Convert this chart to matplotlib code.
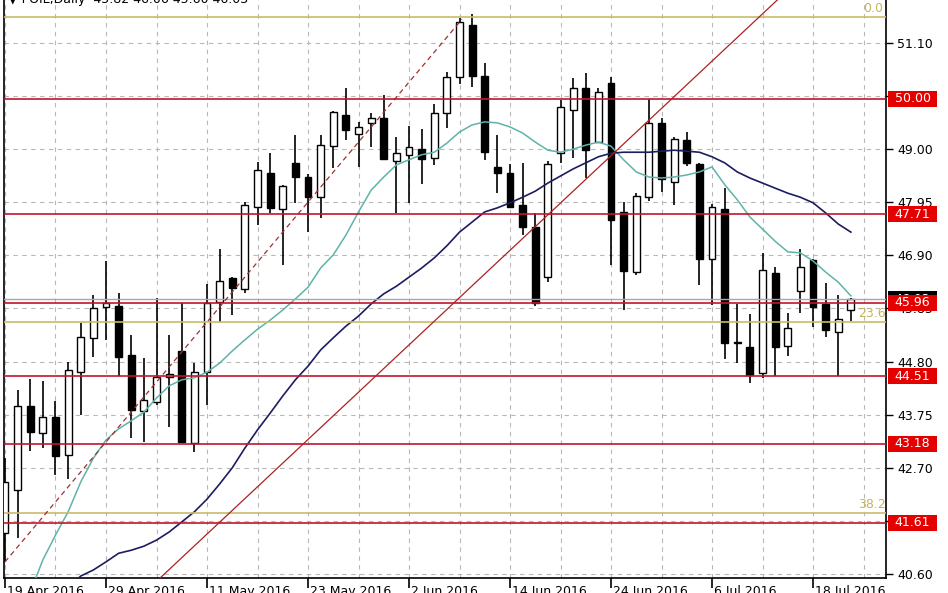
import matplotlib
matplotlib.use("Agg")
import matplotlib.pyplot as plt
import matplotlib.transforms as mtransforms
from matplotlib.patches import Rectangle
import numpy as np

# daily OHLC, POIL, 19 Apr 2016 .. 21 Jul 2016
opens = [41.41, 42.26, 43.92, 43.39, 43.70, 42.95, 44.59, 45.27, 45.88, 45.90,
         44.93, 43.82, 44.00, 44.49, 45.01, 43.19, 44.59, 45.98, 46.45, 46.23,
         47.86, 48.53, 47.82, 48.73, 48.45, 48.05, 49.06, 49.68, 49.30, 49.52,
         49.62, 48.77, 48.89, 49.00, 48.83, 49.72, 50.43, 51.46, 50.45, 48.65,
         48.53, 47.90, 47.46, 46.47, 48.92, 49.77, 50.21, 49.14, 50.31, 47.76,
         46.57, 48.05, 49.52, 48.35, 49.18, 48.71, 46.83, 47.82, 45.17, 45.09,
         44.57, 46.55, 45.11, 46.20, 46.81, 45.94, 45.38, 45.82]
highs = [42.89, 44.24, 44.46, 44.42, 44.02, 44.79, 45.56, 46.12, 46.79, 46.16,
         45.33, 44.87, 46.06, 45.33, 45.96, 44.77, 46.33, 47.03, 46.47, 47.96,
         48.75, 48.92, 48.30, 49.28, 48.51, 49.28, 49.76, 50.21, 49.54, 49.72,
         50.07, 49.24, 49.46, 49.40, 49.89, 50.53, 51.59, 51.67, 50.70, 49.28,
         48.71, 48.73, 47.74, 48.77, 49.97, 50.41, 50.51, 50.21, 50.43, 47.96,
         48.13, 49.99, 49.62, 49.24, 49.34, 48.73, 47.92, 48.23, 45.94, 45.74,
         46.95, 46.67, 45.76, 47.03, 46.83, 46.35, 46.12, 46.06]
lows = [40.84, 41.31, 43.03, 43.09, 42.56, 42.48, 43.74, 44.89, 45.23, 44.51,
        43.29, 43.21, 43.94, 43.51, 43.19, 43.01, 43.94, 45.58, 45.72, 46.16,
        47.50, 47.74, 46.71, 47.94, 47.36, 47.64, 48.63, 49.18, 48.65, 49.04,
        48.79, 47.74, 47.94, 48.31, 48.69, 49.42, 50.29, 50.23, 48.79, 48.13,
        47.84, 47.30, 45.90, 46.37, 48.73, 48.83, 48.43, 49.12, 46.71, 45.82,
        46.51, 47.98, 48.15, 47.90, 48.67, 46.31, 45.92, 44.85, 44.77, 44.38,
        44.48, 44.51, 44.91, 45.76, 45.48, 45.29, 44.51, 45.60]
closes = [42.42, 43.92, 43.41, 43.70, 42.93, 44.63, 45.29, 45.86, 45.96, 44.89,
          43.84, 44.04, 44.49, 44.55, 43.21, 44.59, 45.96, 46.39, 46.25, 47.90,
          48.59, 47.84, 48.27, 48.45, 48.05, 49.08, 49.74, 49.38, 49.44, 49.62,
          48.81, 48.92, 49.04, 48.81, 49.72, 50.43, 51.52, 50.45, 48.94, 48.53,
          47.86, 47.46, 45.96, 48.71, 49.83, 50.21, 48.98, 50.13, 47.60, 46.59,
          48.07, 49.52, 48.41, 49.20, 48.73, 46.83, 47.86, 45.17, 45.19, 44.53,
          46.61, 45.09, 45.46, 46.67, 45.88, 45.42, 45.64, 46.03]

# moving averages as drawn on the chart (fast one starts at bar 2, slow at bar 5)
ma_fast = [40.24, 40.88, 41.37, 41.83, 42.42, 42.89, 43.25, 43.47, 43.63, 43.80,
           44.08, 44.32, 44.44, 44.48, 44.59, 44.77, 45.01, 45.23, 45.44, 45.62,
           45.82, 46.04, 46.27, 46.65, 46.91, 47.30, 47.76, 48.19, 48.45, 48.69,
           48.79, 48.89, 48.94, 49.12, 49.34, 49.48, 49.54, 49.52, 49.44, 49.32,
           49.14, 48.98, 48.94, 49.00, 49.08, 49.14, 49.06, 48.79, 48.55, 48.45,
           48.43, 48.45, 48.49, 48.55, 48.65, 48.30, 48.00, 47.66, 47.42, 47.18,
           46.97, 46.95, 46.79, 46.57, 46.37, 46.10]
ma_slow = [40.32, 40.56, 40.68, 40.84, 41.01, 41.07, 41.15, 41.27, 41.43, 41.63,
           41.83, 42.08, 42.38, 42.70, 43.09, 43.45, 43.78, 44.12, 44.44, 44.71,
           45.03, 45.27, 45.50, 45.70, 45.94, 46.14, 46.29, 46.47, 46.65, 46.85,
           47.09, 47.36, 47.56, 47.76, 47.84, 47.94, 48.05, 48.17, 48.33, 48.47,
           48.61, 48.73, 48.85, 48.92, 48.94, 48.94, 48.94, 48.96, 48.98, 48.96,
           48.94, 48.85, 48.73, 48.55, 48.43, 48.33, 48.23, 48.13, 48.05, 47.94,
           47.74, 47.52, 47.36]

red_levels = [50.00, 47.71, 45.96, 44.51, 43.18, 41.61]
fib_levels = [51.61, 45.58, 41.81]
fib_names = ["0.0", "23.6", "38.2"]
bid = 46.03

# trend line and fib base line: two anchor points each (bar, price)
trend_pts = [(12.28, 40.52), (61.0, 51.91)]
fib_line = [(0.0, 40.84), (36.2, 51.57)]

y_ticks = [40.60, 41.65, 42.70, 43.75, 44.80, 45.85, 46.90, 47.95, 49.00, 50.05, 51.10]
date_bars = [0, 8, 16, 24, 32, 40, 48, 56, 64]
date_labels = ["19 Apr 2016", "29 Apr 2016", "11 May 2016", "23 May 2016", "2 Jun 2016",
               "14 Jun 2016", "24 Jun 2016", "6 Jul 2016", "18 Jul 2016"]

fig = plt.figure(figsize=(9.48, 5.93), dpi=100)
ax = fig.add_axes([4/948, 15/593, 882/948, 578/593])
ax.set_xlim(-0.079, 69.78)
ax.set_ylim(40.521, 51.950)

# grid
for k in range(0, 72, 4):
    ax.axvline(k, color="#b8b8b8", lw=0.8, ls=(0, (4, 4)), zorder=0)
for t in y_ticks:
    ax.axhline(t, color="#b8b8b8", lw=0.8, ls=(0, (4, 4)), zorder=0)

# candles
x = np.arange(len(opens))
o = np.array(opens); c = np.array(closes)
ax.vlines(x, lows, highs, color="black", lw=1.2, zorder=2)
up = c >= o
bottom = np.minimum(o, c)
height = np.maximum(np.abs(c - o), 0.02)
ax.bar(x[up], height[up], bottom=bottom[up], width=0.55, color="white",
       edgecolor="black", lw=1.0, zorder=3)
ax.bar(x[~up], height[~up], bottom=bottom[~up], width=0.55, color="black",
       edgecolor="black", lw=1.0, zorder=3)

# moving averages
ax.plot(np.arange(2, 2 + len(ma_fast)), ma_fast, color="#5fb3aa", lw=1.1, zorder=4)
ax.plot(np.arange(5, 5 + len(ma_slow)), ma_slow, color="#1c1c60", lw=1.2, zorder=4)

# levels
ax.axhline(bid, color="#a8a8a8", lw=1.0, zorder=4)
for lv in fib_levels:
    ax.axhline(lv, color="#c8bc6a", lw=1.2, zorder=4)
for lv in red_levels:
    ax.axhline(lv, color="#c0162e", lw=1.2, zorder=5)
ax.axline(trend_pts[0], trend_pts[1], color="#b02020", lw=0.9, zorder=4)
ax.plot([p[0] for p in fib_line], [p[1] for p in fib_line], color="#a03030",
        lw=0.9, ls=(0, (4, 3)), zorder=4)

for lv, name, bx in zip(fib_levels, fib_names, [68.0, 67.6, 67.6]):
    ax.text(bx, lv + 0.04, name, color="#c8b45a", fontsize=9, ha="left",
            va="bottom", zorder=6, clip_on=True)

# axes styling
ax.spines["top"].set_visible(False)
for s in ["left", "right", "bottom"]:
    ax.spines[s].set_linewidth(1.2)
ax.yaxis.tick_right()
ax.set_yticks(y_ticks)
# 50.05 and 41.65 sit under the red price boxes
ax.set_yticklabels(["" if t in (50.05, 41.65) else "%.2f" % t for t in y_ticks])
ax.tick_params(axis="y", direction="out", length=5, width=1, pad=3, labelsize=9)
ax.set_xticks(date_bars)
ax.set_xticklabels([])
ax.tick_params(axis="x", direction="out", length=7, width=1.2)
trans_x = mtransforms.blended_transform_factory(ax.transData, ax.transAxes)
for b, lab in zip(date_bars, date_labels):
    ax.text(b + 0.15, -7/578, lab, transform=trans_x, ha="left", va="top",
            fontsize=9, clip_on=False)

# price labels on the right axis (bid box first, red boxes on top of it)
trans_y = mtransforms.blended_transform_factory(ax.transAxes, ax.transData)
bw = 49/882
bh = 16/50.57
boxes = [(bid, "black")] + [(r, "#e50000") for r in red_levels]
for i, (lv, fc) in enumerate(boxes):
    z = 10 + 2*i
    ax.add_patch(Rectangle((1.0023, lv - bh/2), bw, bh, transform=trans_y,
                           facecolor=fc, edgecolor="none", clip_on=False, zorder=z))
    ax.text(1.0023 + bw/2, lv, "%.2f" % lv, transform=trans_y, color="white",
            fontsize=9, ha="center", va="center", clip_on=False, zorder=z + 1)

fig.text(8/948, 1 - 3/593, "\u25bc POIL,Daily  45.82 46.06 45.60 46.03", fontsize=9,
         ha="left", va="baseline")

fig.savefig("out.png", dpi=100)
